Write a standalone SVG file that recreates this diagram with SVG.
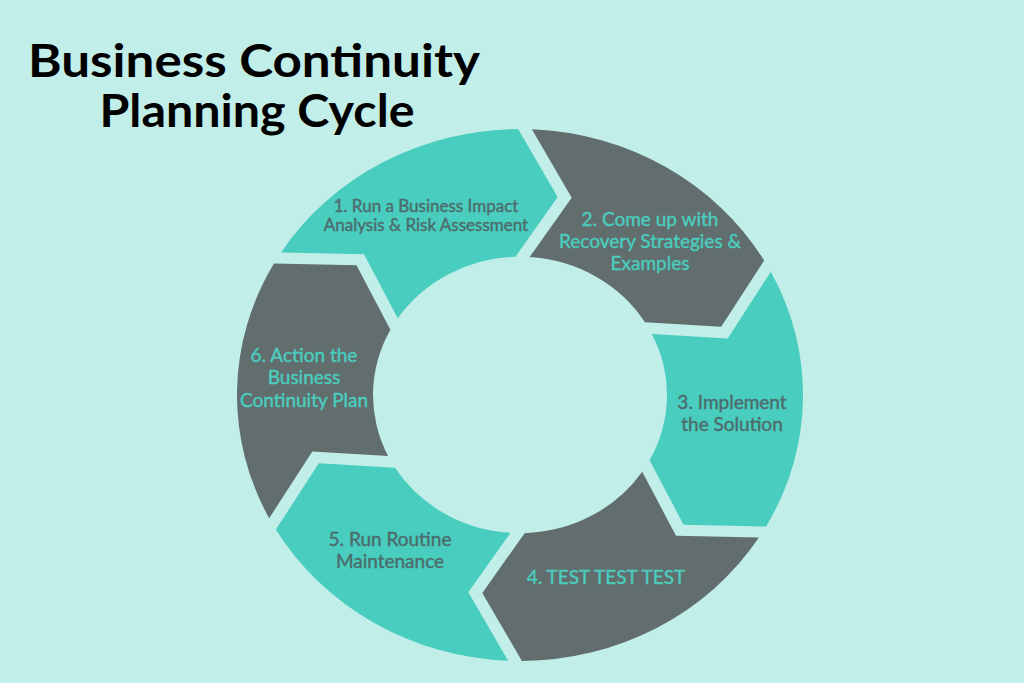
<svg xmlns="http://www.w3.org/2000/svg" xmlns:xlink="http://www.w3.org/1999/xlink" width="1024" height="683" viewBox="0 0 1024 683">
<style>
.bg{fill:#C2EEE9}
.teal{fill:#48CDBE}
.gray{fill:#626D6E}
.title{font-family:Lato,"Liberation Sans",sans-serif;font-weight:700;font-size:45px;fill:#000;text-anchor:middle}
.lbl{font-family:Lato,"Liberation Sans",sans-serif;font-size:19px;text-anchor:middle;stroke-width:0.4px}
.small{font-size:17px}
.onTeal{fill:#4D6C6D;stroke:#4D6C6D}
.onGray{fill:#4ACDBE;stroke:#4ACDBE}
</style>
<defs>
<path id="seg" d="M282.92,6.95 A283,283 0 0 1 147.39,241.59 L76.15,199.89 L79.65,123.57 A147,147 0 0 0 146.84,7.05 L210.82,48.01 Z"/>
</defs>
<rect class="bg" x="0" y="0" width="1024" height="683"/>
<g id="title">
<text class="title" x="254" y="77" textLength="452" lengthAdjust="spacingAndGlyphs">Business Continuity</text>
<text class="title" x="257" y="127" textLength="315" lengthAdjust="spacingAndGlyphs">Planning Cycle</text>
</g>
<g id="step1">
<use xlink:href="#seg" class="teal" transform="translate(520 395) scale(1 0.94) rotate(211)"/>
<text class="lbl small onTeal" x="426" y="212">1. Run a Business Impact</text>
<text class="lbl small onTeal" x="426" y="231">Analysis &amp; Risk Assessment</text>
</g>
<g id="step2">
<use xlink:href="#seg" class="gray" transform="translate(520 395) scale(1 0.94) rotate(271)"/>
<text class="lbl onGray" x="650" y="226">2. Come up with</text>
<text class="lbl onGray" x="650" y="248">Recovery Strategies &amp;</text>
<text class="lbl onGray" x="650" y="270">Examples</text>
</g>
<g id="step3">
<use xlink:href="#seg" class="teal" transform="translate(520 395) scale(1 0.94) rotate(331)"/>
<text class="lbl onTeal" x="732" y="409">3. Implement</text>
<text class="lbl onTeal" x="732" y="431">the Solution</text>
</g>
<g id="step4">
<use xlink:href="#seg" class="gray" transform="translate(520 395) scale(1 0.94) rotate(31)"/>
<text class="lbl onGray" x="606" y="584">4. TEST TEST TEST</text>
</g>
<g id="step5">
<use xlink:href="#seg" class="teal" transform="translate(520 395) scale(1 0.94) rotate(91)"/>
<text class="lbl onTeal" x="390" y="546">5. Run Routine</text>
<text class="lbl onTeal" x="390" y="568">Maintenance</text>
</g>
<g id="step6">
<use xlink:href="#seg" class="gray" transform="translate(520 395) scale(1 0.94) rotate(151)"/>
<text class="lbl onGray" x="304" y="362">6. Action the</text>
<text class="lbl onGray" x="304" y="384">Business</text>
<text class="lbl onGray" x="304" y="407">Continuity Plan</text>
</g>
<g id="connectors"/>
</svg>
